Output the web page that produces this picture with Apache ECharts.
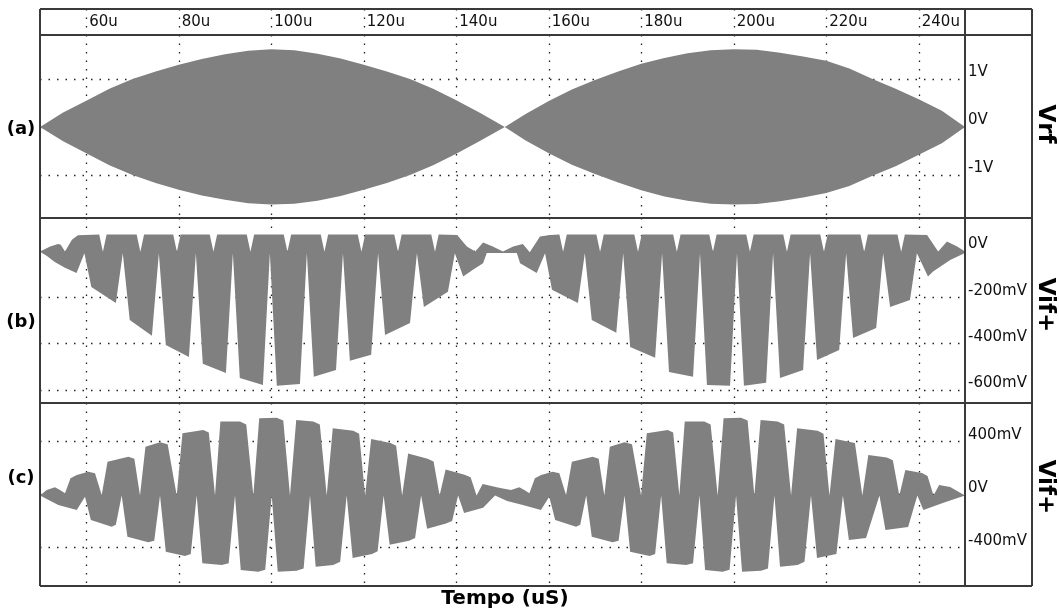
<!DOCTYPE html>
<html>
<head>
<meta charset="utf-8">
<script src="https://cdn.jsdelivr.net/npm/echarts@6/dist/echarts.min.js"></script>
<style>
  html, body { margin: 0; padding: 0; background: #fff; }
  #chart { width: 1059px; height: 611px; }
</style>
</head>
<body>
<div id="chart"></div>
<script>
// time axis (microseconds)
const timeTicks = [60, 80, 100, 120, 140, 160, 180, 200, 220, 240];
const vrfTicks = [-1, 0, 1];
const vifbTicks = [-0.6, -0.4, -0.2, 0];
const vifcTicks = [-0.4, 0, 0.4];

// (a) Vrf envelope, volts
const vrfTime  = [50, 55, 60, 65, 70, 75, 80, 85, 90, 95, 100, 105, 110, 115, 120, 125, 130, 135, 140, 145, 150.5,
                  155, 160, 165, 170, 175, 180, 185, 190, 195, 200, 205, 210, 215, 220, 225, 230, 235, 240, 245, 250];
const vrfUpper = [0, 0.3, 0.55, 0.8, 1.0, 1.16, 1.3, 1.42, 1.52, 1.59, 1.62, 1.6, 1.53, 1.43, 1.3, 1.16, 1.0, 0.8, 0.56, 0.3, 0,
                  0.27, 0.54, 0.78, 0.98, 1.16, 1.32, 1.44, 1.54, 1.6, 1.62, 1.61, 1.55, 1.47, 1.38, 1.22, 1.0, 0.8, 0.58, 0.34, 0];
const vrfLower = [0, -0.3, -0.55, -0.8, -1.0, -1.17, -1.31, -1.43, -1.52, -1.59, -1.62, -1.6, -1.54, -1.44, -1.31, -1.17, -1.0, -0.8, -0.56, -0.3, 0,
                  -0.28, -0.55, -0.79, -0.98, -1.16, -1.32, -1.45, -1.54, -1.6, -1.62, -1.61, -1.55, -1.47, -1.38, -1.23, -1.02, -0.82, -0.58, -0.34, 0];

// (b) Vif+ outline [t, V]
const vifbUpper = [
  [50,-0.003],[52.2,0.019],[53.9,0.03],[54.5,0.026],[55.4,-0.003],[56.9,0.048],[58.2,0.067],
  [62.8,0.071],[63.6,-0.004],[64.4,0.071],[70.9,0.071],[71.7,-0.004],[72.5,0.071],
  [78.8,0.071],[79.6,-0.004],[80.4,0.071],[86.7,0.071],[87.5,-0.004],[88.3,0.071],
  [94.7,0.071],[95.5,-0.004],[96.3,0.071],[102.7,0.071],[103.5,-0.004],[104.3,0.071],
  [110.7,0.071],[111.5,-0.004],[112.3,0.071],[118.7,0.071],[119.5,-0.004],[120.3,0.071],
  [126.6,0.071],[127.4,-0.004],[128.2,0.071],[134.6,0.071],[135.4,-0.004],[136.2,0.071],
  [140.2,0.069],[142.3,0.019],[144.1,-0.003],[145.8,0.036],[147.9,0.019],[150.1,-0.003],
  [152.3,0.019],[154.4,0.03],[155.9,-0.006],[158.1,0.062],[160.3,0.069],
  [162.3,0.071],[163.1,-0.004],[163.9,0.071],[170.3,0.071],[171.1,-0.004],[171.9,0.071],
  [178.5,0.071],[179.3,-0.004],[180.1,0.071],[186.9,0.071],[187.7,-0.004],[188.5,0.071],
  [194.7,0.071],[195.5,-0.004],[196.3,0.071],[202.7,0.071],[203.5,-0.004],[204.3,0.071],
  [210.7,0.071],[211.5,-0.004],[212.3,0.071],[218.7,0.071],[219.5,-0.004],[220.3,0.071],
  [227.4,0.071],[228.2,-0.004],[229.0,0.071],[235.4,0.071],[236.2,-0.004],[237.0,0.071],
  [241.8,0.069],[244.2,-0.003],[246.1,0.04],[248.3,0.019],[250,-0.003]
];
const vifbLower = [
  [50,-0.004],[51.5,-0.022],[53.2,-0.048],[55.4,-0.073],[57.9,-0.096],[59.6,-0.01],
  [61.1,-0.156],[66.4,-0.225],[67.9,-0.01],[69.4,-0.298],[74.2,-0.367],[75.7,-0.01],
  [77.2,-0.406],[82.2,-0.458],[83.7,-0.01],[85.2,-0.488],[90.2,-0.527],[91.7,-0.01],
  [93.2,-0.549],[98.2,-0.579],[99.7,-0.01],[101.2,-0.583],[106.2,-0.575],[107.7,-0.01],
  [109.2,-0.544],[114.0,-0.514],[115.5,-0.01],[117.0,-0.475],[121.6,-0.449],[123.1,-0.01],
  [124.6,-0.363],[130.0,-0.311],[131.5,-0.01],[133.0,-0.242],[138.2,-0.177],[139.7,-0.01],
  [141.5,-0.111],[143.6,-0.082],[145.8,-0.053],[146.6,-0.009],[153.1,-0.009],[153.8,-0.053],
  [157.4,-0.096],[159.2,-0.01],
  [160.7,-0.168],[166.3,-0.225],[167.8,-0.01],[169.3,-0.298],[174.6,-0.354],[176.1,-0.01],
  [177.6,-0.415],[183.0,-0.462],[184.5,-0.01],[186.0,-0.523],[191.2,-0.544],[192.7,-0.01],
  [194.2,-0.579],[199.2,-0.583],[200.7,-0.01],[202.2,-0.583],[207.0,-0.57],[208.5,-0.01],
  [210.0,-0.549],[215.0,-0.514],[216.5,-0.01],[218.0,-0.471],[222.8,-0.428],[224.3,-0.01],
  [225.8,-0.376],[230.8,-0.333],[232.3,-0.01],[233.8,-0.242],[238.1,-0.212],[239.6,-0.01],
  [242.0,-0.111],[243.1,-0.089],[246.8,-0.039],[250,-0.009]
];

// (c) Vif+ outline [t, V]
const vifcUpper = [
  [50,-0.008],[51.45,0.034],[53.24,0.055],[54.32,0.034],[55.41,0.009],
  [56.6,0.123],[57.94,0.148],[60.44,0.173],[61.89,0.161],[63.34,-0.004],
  [64.6,0.248],[69.09,0.286],[70.4,0.27],[71.62,-0.008],[72.8,0.362],[75.95,0.395],[77.6,0.38],[79.56,-0.008],
  [80.8,0.464],[85.31,0.489],[86.5,0.47],[87.84,-0.008],[89.0,0.552],[93.24,0.552],[94.6,0.53],[96.12,-0.008],
  [97.4,0.577],[101.18,0.582],[102.6,0.56],[104.05,-0.008],[105.4,0.564],[109.09,0.552],[110.5,0.53],[111.99,-0.008],
  [113.3,0.502],[117.74,0.483],[119.0,0.46],[120.3,-0.008],[121.6,0.42],[125.8,0.39],[127.0,0.37],[128.3,-0.008],
  [129.6,0.31],[133.8,0.27],[135.1,0.25],[136.4,-0.008],[137.7,0.19],[141.8,0.15],[143.1,0.13],[144.4,-0.008],
  [145.7,0.08],[149.5,0.05],[151.85,0.034],[153.64,0.055],[154.72,0.034],[155.81,0.009],
  [157.0,0.123],[158.34,0.148],[160.84,0.173],[162.29,0.161],[163.74,-0.004],
  [165.0,0.248],[169.49,0.286],[170.8,0.27],[172.02,-0.008],[173.2,0.362],[176.35,0.395],[178.0,0.38],[179.96,-0.008],
  [181.2,0.464],[185.71,0.489],[186.9,0.47],[188.24,-0.008],[189.4,0.552],[193.64,0.552],[195.0,0.53],[196.52,-0.008],
  [197.8,0.577],[201.58,0.582],[203.0,0.56],[204.45,-0.008],[205.8,0.564],[209.49,0.552],[210.9,0.53],[212.39,-0.008],
  [213.7,0.502],[218.14,0.483],[219.4,0.46],[220.7,-0.008],[222.0,0.42],[226.2,0.39],[227.8,-0.008],
  [229.1,0.30],[233.1,0.28],[234.4,0.26],[235.8,-0.008],[237.1,0.186],[240.7,0.163],[241.9,0.14],[243.2,-0.008],
  [244.4,0.072],[246.8,0.057],[250,-0.008]
];
const vifcLower = [
  [50,-0.008],[53.96,-0.08],[57.94,-0.117],[59.73,-0.017],
  [61.0,-0.193],[65.5,-0.244],[66.4,-0.23],[67.66,-0.008],[68.9,-0.32],[73.42,-0.362],[74.7,-0.35],[75.95,-0.008],
  [77.2,-0.433],[81.35,-0.466],[82.6,-0.45],[83.88,-0.008],[85.1,-0.521],[89.29,-0.534],[90.8,-0.52],[92.16,-0.008],
  [93.4,-0.572],[97.2,-0.585],[98.7,-0.57],[100.1,-0.008],[101.4,-0.585],[105.5,-0.577],[107.0,-0.56],[108.38,-0.008],
  [109.6,-0.547],[113.41,-0.534],[114.9,-0.51],[116.31,-0.008],[117.6,-0.48],[121.8,-0.45],[123.0,-0.43],[124.3,-0.008],
  [125.6,-0.38],[129.8,-0.35],[131.1,-0.33],[132.4,-0.008],[133.7,-0.26],[137.8,-0.22],[139.1,-0.2],[140.4,-0.008],
  [141.7,-0.14],[145.8,-0.1],[148.4,-0.008],[151.0,-0.05],[154.4,-0.08],[158.3,-0.117],[160.1,-0.017],
  [161.4,-0.193],[165.9,-0.244],[166.8,-0.23],[168.1,-0.008],[169.3,-0.32],[173.8,-0.362],[175.1,-0.35],[176.4,-0.008],
  [177.6,-0.433],[181.8,-0.466],[183.0,-0.45],[184.3,-0.008],[185.5,-0.521],[189.7,-0.534],[191.2,-0.52],[192.6,-0.008],
  [193.8,-0.572],[197.6,-0.585],[199.1,-0.57],[200.5,-0.008],[201.8,-0.585],[205.9,-0.577],[207.4,-0.56],[208.8,-0.008],
  [210.0,-0.547],[213.8,-0.534],[215.3,-0.51],[216.7,-0.008],[218.0,-0.48],[222.2,-0.45],[223.6,-0.008],
  [224.9,-0.345],[228.6,-0.33],[231.5,-0.008],[232.8,-0.269],[237.7,-0.246],[239.7,-0.008],
  [241.0,-0.117],[245.2,-0.064],[250,-0.008]
];

const FONT = 'DejaVu Sans';
const GRAY = '#808080';
const dotted = { show: true, lineStyle: { color: '#222', width: 1.3, type: [1.5, 7] } };

function pairs(xs, ys) { return xs.map((x, i) => [x, ys[i]]); }

function band(idx, upper, lower) {
  return {
    type: 'custom', xAxisIndex: idx, yAxisIndex: idx, z: 3, clip: true,
    data: [[upper[0][0], upper[0][1]]],
    renderItem: function (params, api) {
      const pts = upper.map(p => api.coord(p))
        .concat(lower.slice().reverse().map(p => api.coord(p)));
      return { type: 'polygon', shape: { points: pts }, style: { fill: GRAY } };
    }
  };
}

function xAx(idx, labels) {
  return {
    type: 'value', gridIndex: idx, min: 50, max: 250, position: 'top',
    axisLine: { show: false },
    axisTick: { show: false, customValues: timeTicks },
    axisLabel: {
      show: labels, customValues: timeTicks, inside: true, margin: 13,
      align: 'left', verticalAlign: 'middle', padding: [0, 0, 0, 3],
      fontFamily: FONT, fontSize: 15, color: '#111',
      formatter: v => v + 'u'
    },
    splitLine: dotted
  };
}

function yAx(idx, min, max, ticks, fmt) {
  return {
    type: 'value', gridIndex: idx, min: min, max: max, position: 'right',
    axisLine: { show: false },
    axisTick: { show: false, customValues: ticks },
    axisLabel: {
      customValues: ticks, margin: 3, align: 'left', verticalAlign: 'bottom', lineHeight: 13,
      fontFamily: FONT, fontSize: 15, color: '#111', formatter: fmt
    },
    splitLine: dotted
  };
}

const mv = v => (Math.abs(v) < 1e-9 ? '0V' : Math.round(v * 1000) + 'mV');

const frameLines = [
  [40, 9, 1032, 9], [40, 35, 1032, 35], [40, 218, 1032, 218], [40, 403, 1032, 403], [40, 586, 1032, 586],
  [40, 9, 40, 586], [965, 9, 965, 586], [1032, 9, 1032, 586]
].map(l => ({
  type: 'line', z: 50, silent: true,
  shape: { x1: l[0], y1: l[1], x2: l[2], y2: l[3] },
  style: { stroke: '#3a3a3a', lineWidth: 2 }
}));

function txt(x, y, s, size, rot) {
  return {
    type: 'text', z: 50, x: x, y: y, rotation: rot || 0, silent: true,
    style: { text: s, fontFamily: FONT, fontWeight: 'bold', fontSize: size, fill: '#000',
             align: 'center', verticalAlign: 'middle' }
  };
}

const chart = echarts.init(document.getElementById('chart'), null, { renderer: 'canvas' });
chart.setOption({
  animation: false,
  backgroundColor: '#fff',
  grid: [
    { left: 40, top: 9, width: 925, height: 26 },
    { left: 40, top: 35, width: 925, height: 183 },
    { left: 40, top: 218, width: 925, height: 185 },
    { left: 40, top: 403, width: 925, height: 183 }
  ],
  xAxis: [xAx(0, true), xAx(1, false), xAx(2, false), xAx(3, false)],
  yAxis: [
    { type: 'value', gridIndex: 0, min: 0, max: 1, show: false, splitLine: { show: false } },
    yAx(1, -1.9, 1.92, vrfTicks, v => v + 'V'),
    yAx(2, -0.657, 0.142, vifbTicks, mv),
    yAx(3, -0.693, 0.693, vifcTicks, mv)
  ],
  series: [
    band(1, pairs(vrfTime, vrfUpper), pairs(vrfTime, vrfLower)),
    band(2, vifbUpper, vifbLower),
    band(3, vifcUpper, vifcLower)
  ],
  graphic: frameLines.concat([
    txt(21, 129, '(a)', 18),
    txt(21, 322, '(b)', 18),
    txt(21, 478, '(c)', 18),
    txt(1045, 124, 'Vrf', 23, -Math.PI / 2),
    txt(1045, 305, 'Vif+', 23, -Math.PI / 2),
    txt(1045, 487, 'Vif+', 23, -Math.PI / 2),
    txt(505, 599, 'Tempo (uS)', 20)
  ])
});
</script>
</body>
</html>
